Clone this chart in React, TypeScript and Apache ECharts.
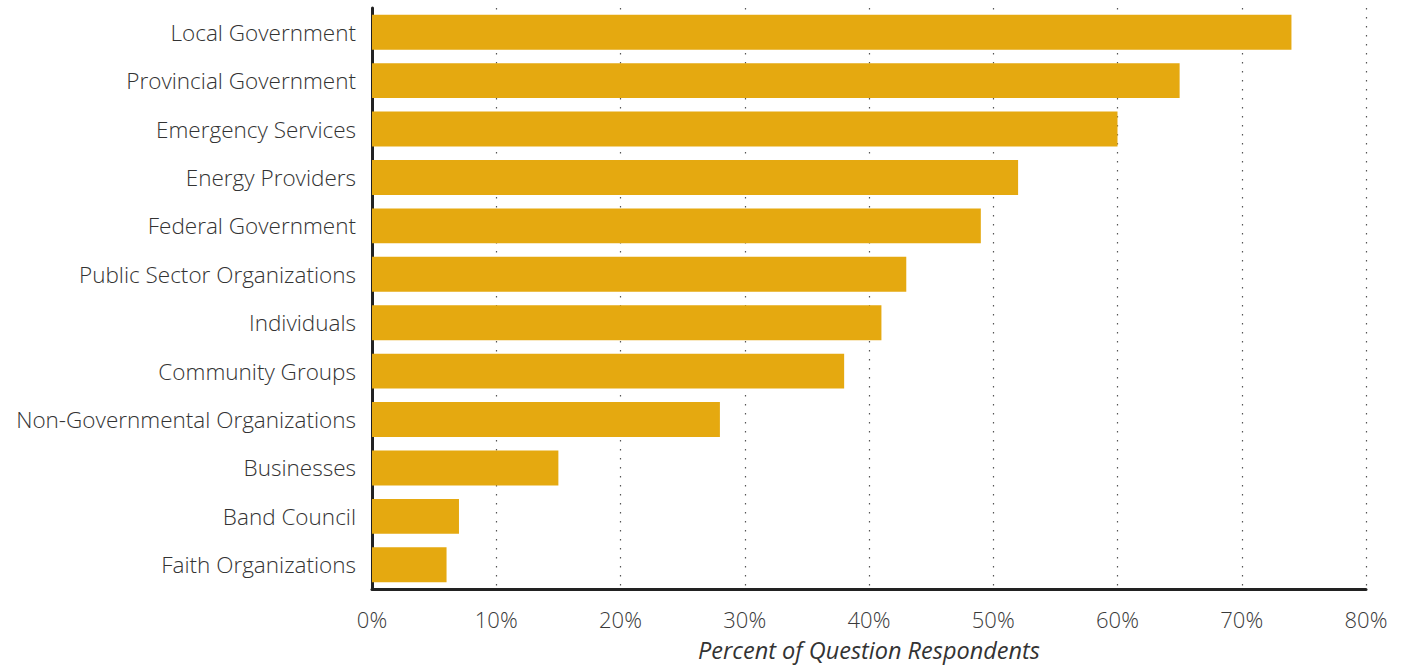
import React, { useEffect, useRef } from "react";
import * as echarts from "echarts";

const categories = [
  "Local Government",
  "Provincial Government",
  "Emergency Services",
  "Energy Providers",
  "Federal Government",
  "Public Sector Organizations",
  "Individuals",
  "Community Groups",
  "Non-Governmental Organizations",
  "Businesses",
  "Band Council",
  "Faith Organizations",
];
const values = [74, 65, 60, 52, 49, 43, 41, 38, 28, 15, 7, 6];
const xTicks = [0, 10, 20, 30, 40, 50, 60, 70, 80];
const axisTitle = "Percent of Question Respondents";

const FONT = "Open Sans";

export default function App() {
  const ref = useRef<HTMLDivElement>(null);
  useEffect(() => {
    if (!ref.current) return;
    const chart = echarts.init(ref.current, null, { renderer: "svg" });
    chart.setOption({
      animation: false,
      backgroundColor: "#ffffff",
      grid: {
        left: 372,
        right: 39,
        top: 8,
        bottom: 76,
        containLabel: false,
        outerBoundsMode: "none",
      },
      xAxis: {
        type: "value",
        min: xTicks[0],
        max: xTicks[xTicks.length - 1],
        interval: 10,
        name: axisTitle,
        nameLocation: "middle",
        nameGap: 48,
        nameTextStyle: {
          fontFamily: FONT,
          fontStyle: "italic",
          fontWeight: 400,
          fontSize: 23.5,
          color: "#333",
          lineHeight: 26,
        },
        axisLine: { show: true, lineStyle: { color: "#222", width: 3 } },
        axisTick: { show: false },
        axisLabel: {
          fontFamily: FONT,
          fontWeight: 300,
          fontSize: 22,
          color: "#3a3a3a",
          margin: 19,
          formatter: (v: number) => v + "%",
        },
        splitLine: { show: true, lineStyle: { color: "#555", type: [1.5, 7.5], width: 1.2 } },
      },
      yAxis: {
        type: "category",
        data: categories,
        inverse: true,
        axisLine: { show: true, lineStyle: { color: "#222", width: 3 } },
        axisTick: { show: false },
        axisLabel: { fontFamily: FONT, fontWeight: 300, fontSize: 22.5, color: "#333", margin: 16 },
      },
      series: [
        {
          type: "bar",
          data: values,
          barCategoryGap: "28%",
          itemStyle: { color: "#E5A910" },
        },
      ],
    });
    return () => chart.dispose();
  }, []);
  return (
    <div
      ref={ref}
      style={{ position: "fixed", left: 0, top: 0, width: 1405, height: 665 }}
    />
  );
}
